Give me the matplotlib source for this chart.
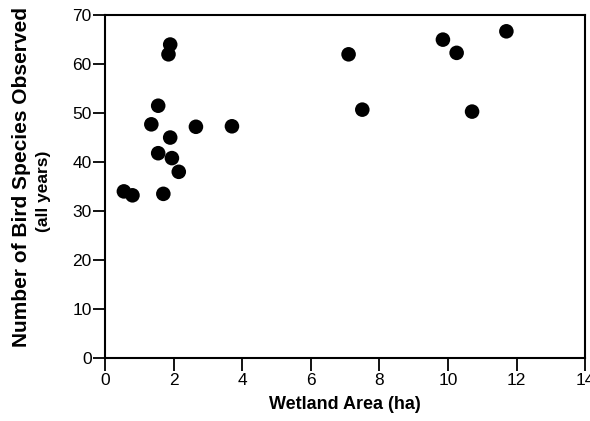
import matplotlib.pyplot as plt

plt.rcParams["font.family"] = ["Liberation Sans", "DejaVu Sans"]

# wetland area (ha) and bird species counts
area = [1.9, 1.85, 1.55, 1.35, 2.65, 3.7, 1.9, 1.55, 1.95, 2.15, 0.55, 0.8, 1.7,
        7.1, 7.5, 9.85, 10.25, 10.7, 11.7]
species = [64, 62, 51.5, 47.7, 47.2, 47.3, 45, 41.8, 40.8, 38, 34, 33.2, 33.5,
           62, 50.7, 65, 62.3, 50.3, 66.7]

x_ticks = [0, 2, 4, 6, 8, 10, 12, 14]
y_ticks = [0, 10, 20, 30, 40, 50, 60, 70]

fig = plt.figure(figsize=(5.9, 4.21), dpi=100)
ax = fig.add_axes([0.178, 0.15, 0.814, 0.814])

ax.scatter(area, species, s=110, color="black", edgecolors="none", zorder=3)

ax.set_xlim(0, 14)
ax.set_ylim(0, 70)
ax.set_xticks(x_ticks)
ax.set_yticks(y_ticks)

for side in ax.spines.values():
    side.set_linewidth(1.5)

ax.tick_params(axis="x", direction="out", length=9, width=1.3, pad=2, labelsize=12.5)
ax.tick_params(axis="y", direction="out", length=9, width=1.3, pad=0.5, labelsize=12.5)

ax.set_xlabel("Wetland Area (ha)", fontsize=13, fontweight="bold", labelpad=6)

# y label: two lines, placed separately as in the scan
fig.text(0.036, 1 - 177 / 421, "Number of Bird Species Observed",
         rotation=90, ha="center", va="center", fontsize=15, fontweight="bold")
fig.text(0.074, 1 - 191 / 421, "(all years)",
         rotation=90, ha="center", va="center", fontsize=12.5, fontweight="bold")

fig.savefig("out.png", dpi=100)
